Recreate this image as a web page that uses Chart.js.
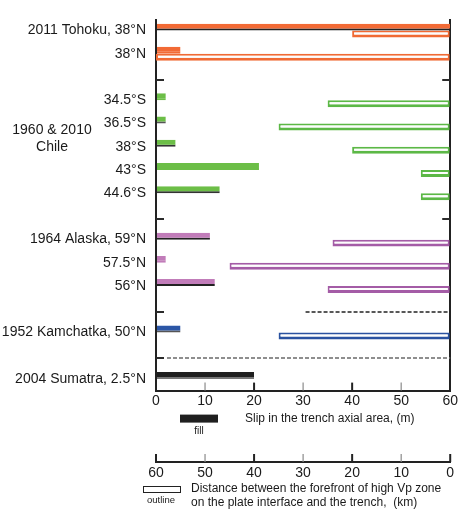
<!DOCTYPE html>
<html>
<head>
<meta charset="utf-8">
<script src="https://cdn.jsdelivr.net/npm/chart.js@4.4.0/dist/chart.umd.min.js"></script>
<style>
  html, body { margin: 0; padding: 0; background: #fff; }
  #wrap { width: 460px; height: 517px; }
</style>
</head>
<body>
<div id="wrap"><canvas id="myChart"></canvas></div>
<script>
// rows top to bottom, '' = gap between regions
let rowLabels = ['2011 Tohoku, 38°N', '38°N', '',
    '34.5°S', '36.5°S', '38°S', '43°S', '44.6°S', '',
    '1964 Alaska, 59°N', '57.5°N', '56°N', '',
    '1952 Kamchatka, 50°N', '',
    '2004 Sumatra, 2.5°N'];
// slip in the trench axial area (m) -> fill
let slipArr = [60, 5, null, 2, 2, 4, 21, 13, null, 11, 2, 12, null, 5, null, 20];
// distance forefront of high Vp zone to trench (km) -> outline
let distArr = [20, 60, null, 25, 35, 20, 6, 6, null, 24, 45, 25, null, 35, null, null];
let slipTicks = [0, 10, 20, 30, 40, 50, 60];
let distTicks = [0, 10, 20, 30, 40, 50, 60];

// colours per row
const ORANGE = '#f26a35', GREEN = '#6cbe47', PURPLE = '#c17cb9', BLUE = '#2b56a6', BLACK = '#1f1f1f';
let fillColors = [ORANGE, ORANGE, null, GREEN, GREEN, GREEN, GREEN, GREEN, null,
    PURPLE, PURPLE, PURPLE, null, BLUE, null, BLACK];
let shadowColors = ['#222', ORANGE, null, GREEN, '#555', '#333', GREEN, '#333', null,
    '#222', PURPLE, '#222', null, '#555', null, '#777'];
let outlineColors = ['#f06a34', '#f06a34', null, '#5cb846', '#5cb846', '#5cb846', '#5cb846', '#5cb846', null,
    '#a45ca6', '#a45ca6', '#a45ca6', null, '#2a52a0', null, null];

const TEXT = '#1a1a1a';
Chart.defaults.font.family = '"Liberation Sans", Arial, sans-serif';
Chart.defaults.color = TEXT;

function line(ctx, x1, y1, x2, y2) {
    ctx.beginPath();
    ctx.moveTo(x1, y1);
    ctx.lineTo(x2, y2);
    ctx.stroke();
}

const extras = {
    id: 'extras',
    afterDraw(chart) {
        const ctx = chart.ctx;
        const a = chart.chartArea;
        const x = chart.scales.x, x2 = chart.scales.x2, y = chart.scales.y;
        const breakY = i => Math.round(y.getPixelForValue(i) + 2.5);

        ctx.save();
        ctx.lineCap = 'butt';
        // region breaks
        ctx.strokeStyle = '#2b2b2b';
        ctx.lineWidth = 2;
        [2, 8].forEach(i => {
            line(ctx, a.left, breakY(i), a.left + 8, breakY(i));
            line(ctx, a.right - 8, breakY(i), a.right, breakY(i));
        });
        [12, 14].forEach(i => line(ctx, a.left, breakY(i), a.left + 8, breakY(i)));
        ctx.setLineDash([4, 2]);
        ctx.lineWidth = 1.5;
        ctx.strokeStyle = '#222';
        line(ctx, x.getPixelForValue(30.5), breakY(12), a.right, breakY(12));
        ctx.strokeStyle = '#6a6a6a';
        line(ctx, a.left + 11, breakY(14), a.right, breakY(14));
        ctx.setLineDash([]);

        // inward ticks, slip axis
        slipTicks.forEach(v => {
            if (v === slipTicks[0] || v === slipTicks[slipTicks.length - 1]) return;
            const odd = (v / 10) % 2 === 1;
            ctx.strokeStyle = odd ? '#8a8a8a' : '#222';
            ctx.lineWidth = odd ? 1.2 : 2;
            const px = x.getPixelForValue(v);
            line(ctx, px, a.bottom - 8, px, a.bottom);
        });
        // upward ticks, distance axis
        distTicks.forEach(v => {
            const odd = (v / 10) % 2 === 1;
            ctx.strokeStyle = odd ? '#8a8a8a' : '#222';
            ctx.lineWidth = odd ? 1.2 : 2;
            const px = x2.getPixelForValue(v);
            line(ctx, px, x2.top - 8, px, x2.top);
        });

        // Chile group label
        ctx.fillStyle = TEXT;
        ctx.font = '14px "Liberation Sans", Arial, sans-serif';
        ctx.textAlign = 'center';
        ctx.textBaseline = 'middle';
        const chileY = y.getPixelForValue(5);
        ctx.fillText('1960 & 2010', a.left - 104, chileY - 17);
        ctx.fillText('Chile', a.left - 104, chileY);

        // fill legend
        ctx.fillStyle = BLACK;
        ctx.fillRect(a.left + 24, a.bottom + 24, 38, 8);
        ctx.fillStyle = TEXT;
        ctx.font = '10px "Liberation Sans", Arial, sans-serif';
        ctx.fillText('fill', a.left + 43, a.bottom + 41);
        ctx.textAlign = 'left';
        ctx.font = '12px "Liberation Sans", Arial, sans-serif';
        ctx.fillText('Slip in the trench axial area, (m)', a.left + 89, a.bottom + 28);

        // outline legend
        ctx.strokeStyle = '#222';
        ctx.lineWidth = 1;
        ctx.strokeRect(a.left - 12.5, x2.top + 24.5, 37, 6);
        ctx.textAlign = 'center';
        ctx.font = '9.5px "Liberation Sans", Arial, sans-serif';
        ctx.fillText('outline', a.left + 5, x2.top + 38);
        ctx.textAlign = 'left';
        ctx.font = '12px "Liberation Sans", Arial, sans-serif';
        ctx.fillText('Distance between the forefront of high Vp zone', a.left + 35, x2.top + 27);
        ctx.fillText('on the plate interface and the trench,  (km)', a.left + 35, x2.top + 41);
        ctx.restore();
    }
};

var ctx = document.getElementById('myChart');
var myChart = new Chart(ctx, {
    type: 'bar',
    data: {
        labels: rowLabels,
        datasets: [{
            label: 'fill',
            data: slipArr,
            xAxisID: 'x',
            backgroundColor: fillColors,
            borderColor: shadowColors,
            borderWidth: {top: 0, right: 0, bottom: 2, left: 0},
            borderSkipped: false
        }, {
            label: 'outline',
            data: distArr,
            xAxisID: 'x2',
            backgroundColor: '#fdfdfd',
            borderColor: outlineColors,
            borderWidth: {top: 2, right: 2, bottom: 3, left: 2},
            borderSkipped: false
        }]
    },
    options: {
        indexAxis: 'y',
        responsive: true,
        maintainAspectRatio: false,
        animation: false,
        layout: {padding: {top: 19, right: 9, bottom: 0, left: 0}},
        datasets: {bar: {categoryPercentage: 0.6, barPercentage: 1.0}},
        plugins: {legend: {display: false}, tooltip: {enabled: false}},
        scales: {
            y: {
                type: 'category',
                grid: {display: false, drawTicks: false},
                border: {display: false},
                ticks: {autoSkip: false, padding: 10, font: {size: 14}, color: TEXT},
                afterFit: s => { s.width = 156; }
            },
            x: {
                type: 'linear',
                position: 'bottom',
                weight: 0,
                min: 0, max: 60,
                grid: {
                    drawTicks: false,
                    lineWidth: 2,
                    color: c => (c.tick && (c.tick.value === 0 || c.tick.value === 60)) ? '#222' : 'rgba(0,0,0,0)'
                },
                border: {display: true, color: '#222', width: 2},
                ticks: {padding: 2, font: {size: 14}, color: TEXT},
                afterBuildTicks: s => { s.ticks = slipTicks.map(v => ({value: v})); },
                afterFit: s => { s.height = 71.4; }
            },
            x2: {
                type: 'linear',
                axis: 'x',
                position: 'bottom',
                weight: 1,
                reverse: true,
                min: 0, max: 60,
                grid: {drawOnChartArea: false, drawTicks: false},
                border: {display: true, color: '#222', width: 2},
                ticks: {padding: 3, font: {size: 14}, color: TEXT},
                afterBuildTicks: s => { s.ticks = distTicks.map(v => ({value: v})); },
                afterFit: s => { s.height = 55; }
            }
        }
    },
    plugins: [extras]
});
</script>
</body>
</html>
